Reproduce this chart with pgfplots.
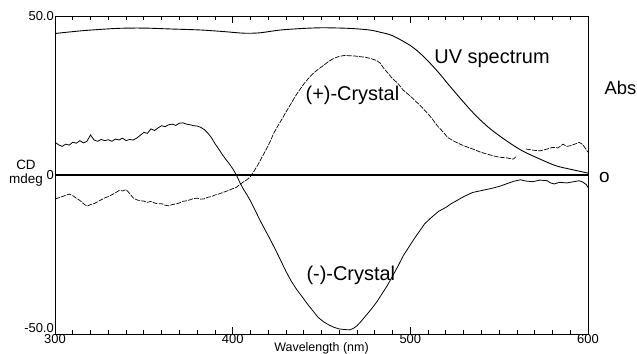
\documentclass[border=0pt]{standalone}
\usepackage{pgfplots}
\pgfplotsset{compat=1.18}
\usepackage{fontspec}
\setmainfont{Liberation Sans}
\begin{document}
\begin{tikzpicture}
\begin{axis}[
  name=ax,
  scale only axis,
  width=533bp, height=318bp,
  xmin=300, xmax=600, ymin=-50, ymax=50,
  axis line style={line width=0.9pt},
  xtick={300,400,500,600},
  minor x tick num=9,
  xtick pos=both,
  tick align=inside,
  major tick length=7bp,
  minor tick length=4bp,
  tick style={line width=0.8pt, black},
  ytick={0,50},
  yticklabels={0,50.0},
  ytick style={draw=none},
  ytick pos=left,
  xticklabel pos=bottom,
  /pgf/number format/assume math mode=true,
  tick label style={font=\fontsize{13}{14}\selectfont},
  xticklabel style={inner sep=0.5pt, yshift=0.5pt},
  yticklabel style={inner sep=1pt},
  unbounded coords=jump,
  clip=false,
]
% zero line
\addplot[black, line width=1.2pt] coordinates {(300,0) (600,0)};
% UV spectrum
\addplot[black, line width=0.9pt, smooth] coordinates {
(300,44.5) (316,45.4) (335,46.1) (350,46.2) (366,45.9) (382,45.6) (395,45.1)
(406,44.6) (415,44.7) (427,45.6) (440,46.1) (451,46.3) (466,46.1) (477,45.6)
(483,44.9) (490,43.8) (500,40.7) (507,37.5) (515,32.8) (522,28.1) (530,22.9)
(537,18.6) (545,14.5) (554,10.8) (563,7.6) (573,5.0) (582,2.9) (591,1.7) (600,0.6)};
% (-)-Crystal
\addplot[black, line width=0.8pt] coordinates {
(300,10.3) (302,9.5) (304,9.0) (306,9.7) (308,9.4) (310,10.3) (312,10.0) (314,10.8)
(316,10.1) (318,10.6) (320,12.6) (322,11.0) (324,10.6) (326,11.2) (328,10.8) (330,11.1)
(332,10.6) (334,11.3) (336,11.0) (338,11.6) (340,10.8) (342,11.2) (344,11.0) (346,11.6)
(348,12.5) (350,13.4) (352,13.1) (354,14.5) (356,14.0) (358,14.8) (360,15.5) (362,15.2)
(364,15.8) (366,16.0) (368,15.6) (370,16.3) (372,16.4) (374,16.0) (376,15.8) (378,15.5)
(380,15.4) (382,15.0) (384,14.3) (386,13.2) (388,11.8) (390,9.9) (392,8.3) (394,6.6)
(396,5.0) (398,3.6) (400,2.0) (402,0.1) (404,-2.3) (406,-4.4) (408,-6.2) (410,-8.1)
(413,-11.5) (415,-13.8) (418,-17) (421,-20.1) (424,-23.4) (427,-26.8) (430,-30.3)
(433,-33.4) (436,-36) (439,-38.2) (442,-40.5) (445,-42.6) (448,-44.7) (451,-46.1)
(454,-47.1) (457,-47.9) (460,-48.4) (463,-48.6) (466,-48.7) (468,-48.2) (470,-47.4)
(472,-46.2) (475,-44.2) (478,-42.2) (481,-40.0) (484,-37.4) (487,-34.8) (490,-31.8)
(493,-28.7) (496,-25.4) (499,-22.8) (502,-20.2) (505,-17.8) (508,-15.4) (510,-14.3)
(513,-12.8) (516,-11.4) (520,-10.2) (523,-9.0) (526,-8.1) (530,-6.8) (535,-5.5)
(540,-4.9) (545,-4.3) (550,-3.6) (554,-2.8) (558,-2.0) (562,-1.5) (565,-1.9) (569,-2.1)
(573,-1.6) (577,-1.8) (579,-2.5) (581,-2.8) (584,-2.3) (588,-2.5) (591,-2.2) (595,-1.8)
(597,-2.2) (599,-3.0) (600,-3.9)};
% (+)-Crystal
\addplot[black, line width=0.7pt, dash pattern=on 5pt off 1.2pt] coordinates {
(300,-7.5) (302,-7.2) (304,-6.8) (306,-6.4) (308,-6.0) (310,-6.5) (312,-7.3) (314,-8.0)
(316,-9.0) (318,-9.8) (320,-9.3) (322,-9.0) (324,-8.4) (326,-7.8) (328,-7.2) (330,-6.8)
(332,-6.2) (334,-5.6) (336,-4.9) (338,-5.0) (340,-4.6) (342,-5.8) (344,-7.2) (346,-7.8)
(348,-8.1) (350,-8.2) (352,-8.6) (354,-8.3) (356,-8.8) (358,-9.1) (360,-9.0) (362,-9.5)
(364,-9.7) (366,-9.3) (368,-9.1) (370,-8.8) (372,-8.3) (374,-8.1) (376,-7.8) (378,-7.4)
(380,-7.3) (382,-7.6) (384,-7.5) (386,-7.0) (388,-6.8) (390,-6.3) (392,-6.0) (394,-5.6)
(396,-5.2) (398,-4.8) (400,-4.3) (402,-3.9) (404,-3.0) (406,-2.2) (408,-1.5) (410,-0.5)
(412,1.2) (414,3.0) (417,6.1) (419,8.2) (421,10.4) (423,13) (425.5,15.5) (428,17.8)
(430,19.8) (433,22.6) (435,24.5) (437.5,26.6) (440,28.6) (442.5,30.3) (445,31.8)
(448,33.2) (451,34.4) (454,35.7) (457,36.7) (460,37.3) (463,37.6) (466,37.5) (469,37.4)
(472,37.2) (475,37.0) (478,36.6) (481,36.0) (483,35.2) (485,33.6) (487,32.3) (490,30.3)
(493,28.8) (496,26.7) (500,24.8) (503,23.2) (506,21.6) (509,19.8) (512,17.9) (515,15.6)
(518,13.8) (521,11.8) (524,10.8) (528,9.7) (532,8.8) (535,8.2) (539,7.3) (543,6.6)
(547,6.0) (550,5.6) (554,5.4) (558,5.0) (560,6.0) (562,nan) (565,8.2) (569,7.8)
(573,7.6) (576,8.0) (580,8.7) (583,8.5) (586,9.7) (588,9.0) (590,9.2) (593,9.8)
(595,10.3) (597,9.6) (599,8.0) (600,7.2)};
\node[font=\fontsize{20}{22}\selectfont] at (axis cs:546,36.6) {UV spectrum};
\node[font=\fontsize{20}{22}\selectfont] at (axis cs:467.4,25.0) {(+)-Crystal};
\node[font=\fontsize{20}{22}\selectfont] at (axis cs:466.5,-31.5) {(-)-Crystal};
\node[font=\fontsize{13}{14}\selectfont, anchor=south east, inner sep=1pt] at (axis cs:300,-50) {-50.0};
\end{axis}
\node[font=\fontsize{13.5}{13.5}\selectfont, align=center, anchor=east, inner sep=0pt]
  at ([xshift=-12bp, yshift=2bp]ax.west) {CD\\mdeg};
\node[font=\fontsize{18.5}{20}\selectfont, anchor=east, inner sep=0pt]
  at ([xshift=48.5bp, yshift=87bp]ax.east) {Abs};
\node[font=\fontsize{19}{20}\selectfont, anchor=west, inner sep=0pt]
  at ([xshift=11bp, yshift=-2bp]ax.east) {o};
\node[font=\fontsize{12.5}{13}\selectfont, anchor=base, inner sep=0pt]
  at ([yshift=-17.5bp]ax.south) {Wavelength (nm)};
\pgfresetboundingbox
\path[use as bounding box] ([shift={(-55bp,-19bp)}]ax.south west) rectangle ([shift={(49bp,16bp)}]ax.north east);
\end{tikzpicture}
\end{document}
